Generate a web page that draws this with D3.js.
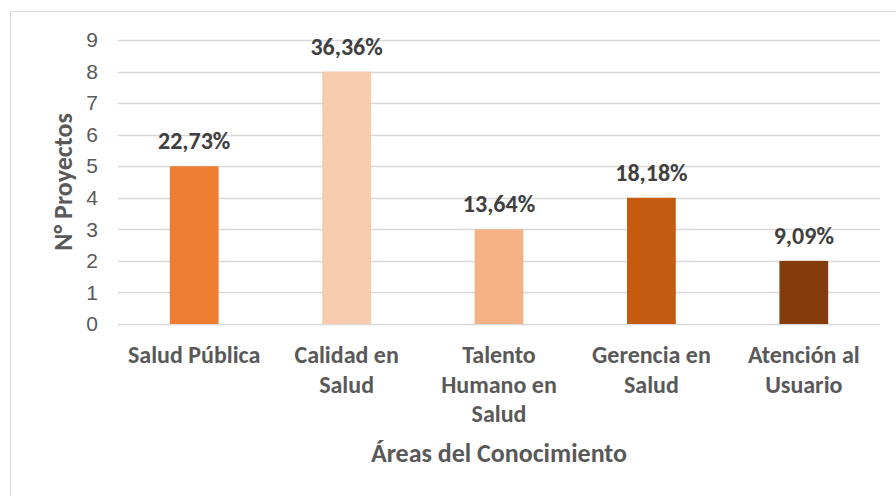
<!DOCTYPE html>
<html>
<head>
<meta charset="utf-8">
<script src="https://cdn.jsdelivr.net/npm/d3@7"></script>
<style>
  html, body { margin: 0; padding: 0; background: #fff; }
  svg { display: block; font-family: Carlito, Calibri, Lato, "Open Sans", sans-serif; }
</style>
</head>
<body>
<div id="chart"></div>
<script>
const categories = [
  ["Salud Pública"],
  ["Calidad en", "Salud"],
  ["Talento", "Humano en", "Salud"],
  ["Gerencia en", "Salud"],
  ["Atención al", "Usuario"],
];
const projectCounts = [5, 8, 3, 4, 2];
const percentLabels = ["22,73%", "36,36%", "13,64%", "18,18%", "9,09%"];
const barColors = ["#ED7D31", "#F8CBAD", "#F4B183", "#C55A11", "#843C0C"];
const yTicks = [0, 1, 2, 3, 4, 5, 6, 7, 8, 9];

const width = 896;
const height = 496;

const svg = d3
  .select("#chart")
  .append("svg")
  .attr("width", width)
  .attr("height", height);

// chart area border (only top/left visible in the crop)
svg
  .append("rect")
  .attr("x", 10.5)
  .attr("y", 11.5)
  .attr("width", width)
  .attr("height", height)
  .attr("fill", "#fff")
  .attr("stroke", "#d9d9d9");

const keys = categories.map((c) => c.join(" "));
const xScale = d3.scaleBand().domain(keys).range([118, 880]).paddingInner(0.68).paddingOuter(0.34);
const yScale = d3.scaleLinear().domain([0, 9]).range([324, 40]);

// gridlines
svg
  .append("g")
  .selectAll("line")
  .data(yTicks)
  .enter()
  .append("line")
  .attr("x1", 118)
  .attr("x2", 880)
  .attr("y1", (d) => Math.round(yScale(d)) + 0.5)
  .attr("y2", (d) => Math.round(yScale(d)) + 0.5)
  .attr("stroke", "#d9d9d9")
  .attr("stroke-width", 1.3);

// y axis labels
const yAxis = d3.axisLeft(yScale).tickValues(yTicks).tickSize(0).tickPadding(0);
const yAxisG = svg.append("g").attr("transform", "translate(98, 0)").call(yAxis);
yAxisG.select(".domain").remove();
yAxisG
  .selectAll("text")
  .attr("font-family", null)
  .attr("font-size", 21)
  .attr("fill", "#595959");

// bars
svg
  .append("g")
  .selectAll("rect")
  .data(projectCounts)
  .enter()
  .append("rect")
  .attr("x", (d, i) => xScale(keys[i]))
  .attr("y", (d) => yScale(d))
  .attr("width", xScale.bandwidth())
  .attr("height", (d) => yScale(0) - yScale(d))
  .attr("fill", (d, i) => barColors[i]);

// data labels
svg
  .append("g")
  .selectAll("text")
  .data(projectCounts)
  .enter()
  .append("text")
  .attr("x", (d, i) => xScale(keys[i]) + xScale.bandwidth() / 2)
  .attr("y", (d) => yScale(d) - 17)
  .attr("text-anchor", "middle")
  .attr("font-size", 24)
  .attr("font-weight", "bold")
  .attr("fill", "#404040")
  .text((d, i) => percentLabels[i]);

// category labels
const catG = svg
  .append("g")
  .selectAll("text")
  .data(categories)
  .enter()
  .append("text")
  .attr("x", (d, i) => xScale(keys[i]) + xScale.bandwidth() / 2)
  .attr("y", 363)
  .attr("text-anchor", "middle")
  .attr("font-size", 24)
  .attr("font-weight", "bold")
  .attr("fill", "#595959");

catG
  .selectAll("tspan")
  .data((d, i) => d.map((line) => ({ line, i })))
  .enter()
  .append("tspan")
  .attr("x", (d) => xScale(keys[d.i]) + xScale.bandwidth() / 2)
  .attr("dy", (d, j) => (j === 0 ? 0 : 29.5))
  .text((d) => d.line);

// axis titles
svg
  .append("text")
  .attr("x", 499)
  .attr("y", 462)
  .attr("text-anchor", "middle")
  .attr("font-size", 26)
  .attr("font-weight", "bold")
  .attr("fill", "#595959")
  .text("Áreas del Conocimiento");

svg
  .append("text")
  .attr("transform", "translate(72, 182) rotate(-90)")
  .attr("text-anchor", "middle")
  .attr("font-size", 26)
  .attr("font-weight", "bold")
  .attr("fill", "#595959")
  .text("N° Proyectos");
</script>
</body>
</html>
